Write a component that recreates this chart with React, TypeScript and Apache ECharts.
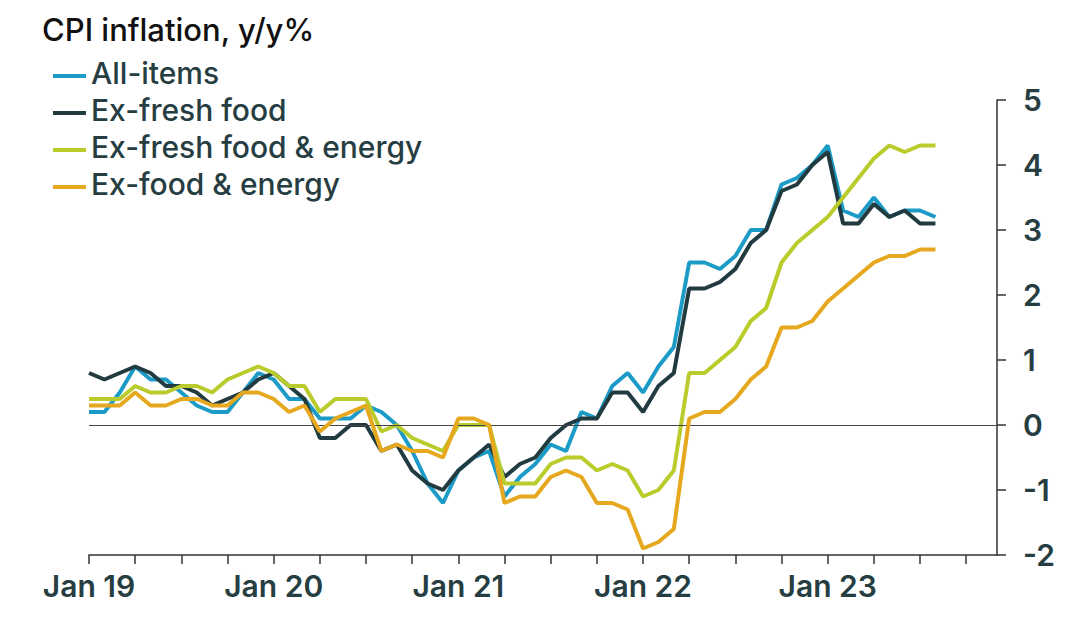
import React, { useEffect, useRef } from "react";
import * as echarts from "echarts";

const years = ["19", "20", "21", "22", "23"];
const monthNames = ["Jan", "Feb", "Mar", "Apr", "May", "Jun", "Jul", "Aug", "Sep", "Oct", "Nov", "Dec"];
const categories: string[] = [];
years.forEach((y) => monthNames.forEach((m) => categories.push(`${m} ${y}`)));

const allItems = [
  0.2, 0.2, 0.5, 0.9, 0.7, 0.7, 0.5, 0.3, 0.2, 0.2, 0.5, 0.8,
  0.7, 0.4, 0.4, 0.1, 0.1, 0.1, 0.3, 0.2, 0.0, -0.4, -0.9, -1.2,
  -0.7, -0.5, -0.4, -1.1, -0.8, -0.6, -0.3, -0.4, 0.2, 0.1, 0.6, 0.8,
  0.5, 0.9, 1.2, 2.5, 2.5, 2.4, 2.6, 3.0, 3.0, 3.7, 3.8, 4.0,
  4.3, 3.3, 3.2, 3.5, 3.2, 3.3, 3.3, 3.2,
];
const exFreshFood = [
  0.8, 0.7, 0.8, 0.9, 0.8, 0.6, 0.6, 0.5, 0.3, 0.4, 0.5, 0.7,
  0.8, 0.6, 0.4, -0.2, -0.2, 0.0, 0.0, -0.4, -0.3, -0.7, -0.9, -1.0,
  -0.7, -0.5, -0.3, -0.8, -0.6, -0.5, -0.2, 0.0, 0.1, 0.1, 0.5, 0.5,
  0.2, 0.6, 0.8, 2.1, 2.1, 2.2, 2.4, 2.8, 3.0, 3.6, 3.7, 4.0,
  4.2, 3.1, 3.1, 3.4, 3.2, 3.3, 3.1, 3.1,
];
const exFreshFoodEnergy = [
  0.4, 0.4, 0.4, 0.6, 0.5, 0.5, 0.6, 0.6, 0.5, 0.7, 0.8, 0.9,
  0.8, 0.6, 0.6, 0.2, 0.4, 0.4, 0.4, -0.1, 0.0, -0.2, -0.3, -0.4,
  0.0, 0.0, 0.0, -0.9, -0.9, -0.9, -0.6, -0.5, -0.5, -0.7, -0.6, -0.7,
  -1.1, -1.0, -0.7, 0.8, 0.8, 1.0, 1.2, 1.6, 1.8, 2.5, 2.8, 3.0,
  3.2, 3.5, 3.8, 4.1, 4.3, 4.2, 4.3, 4.3,
];
const exFoodEnergy = [
  0.3, 0.3, 0.3, 0.5, 0.3, 0.3, 0.4, 0.4, 0.3, 0.3, 0.5, 0.5,
  0.4, 0.2, 0.3, -0.1, 0.1, 0.2, 0.3, -0.4, -0.3, -0.4, -0.4, -0.5,
  0.1, 0.1, 0.0, -1.2, -1.1, -1.1, -0.8, -0.7, -0.8, -1.2, -1.2, -1.3,
  -1.9, -1.8, -1.6, 0.1, 0.2, 0.2, 0.4, 0.7, 0.9, 1.5, 1.5, 1.6,
  1.9, 2.1, 2.3, 2.5, 2.6, 2.6, 2.7, 2.7,
];

const seriesNames = ["All-items", "Ex-fresh food", "Ex-fresh food & energy", "Ex-food & energy"];
const seriesColors = ["#1b9bc6", "#213b41", "#bacb2c", "#e6a81e"];
const seriesData = [allItems, exFreshFood, exFreshFoodEnergy, exFoodEnergy];

const FONT = "Inter, 'Noto Sans', sans-serif";
const TEXT = "#263d42";
// legend swatch: a short bar sitting a little below the text's centre
const LEGEND_ICON = "path://M0,0h33v0.01h-33z M0,7h33v4h-33z";

export default function App() {
  const ref = useRef<HTMLDivElement>(null);
  useEffect(() => {
    if (!ref.current) return;
    const chart = echarts.init(ref.current, undefined, { renderer: "svg" });
    chart.setOption({
      animation: false,
      backgroundColor: "#ffffff",
      title: {
        text: "CPI inflation, y/y%",
        left: 37,
        top: 9,
        textStyle: { fontFamily: FONT, fontSize: 31, fontWeight: 500, color: "#111111" },
      },
      legend: {
        orient: "vertical",
        left: 48,
        top: 49,
        icon: LEGEND_ICON,
        itemWidth: 33,
        itemHeight: 11,
        itemGap: 0,
        data: seriesNames,
        textStyle: {
          fontFamily: FONT,
          fontSize: 30,
          fontWeight: 500,
          color: TEXT,
          lineHeight: 37,
        },
      },
      grid: { left: 89, right: 73, top: 100, bottom: 62, containLabel: false },
      xAxis: {
        type: "category",
        data: categories,
        boundaryGap: false,
        axisLine: { show: true, onZero: false, lineStyle: { color: "#333333", width: 1.5 } },
        axisTick: {
          show: true,
          length: 9,
          interval: (i: number) => i % 3 === 0,
          lineStyle: { color: "#333333", width: 1.5 },
        },
        axisLabel: {
          interval: (i: number) => i % 12 === 0,
          margin: 16,
          fontFamily: FONT,
          fontSize: 30,
          fontWeight: 600,
          color: TEXT,
        },
        splitLine: { show: false },
      },
      yAxis: {
        type: "value",
        position: "right",
        min: -2,
        max: 5,
        interval: 1,
        axisLine: { show: true, lineStyle: { color: "#333333", width: 1.5 } },
        axisTick: { show: true, inside: false, length: 9, lineStyle: { color: "#333333", width: 1.5 } },
        axisLabel: {
          margin: 26,
          fontFamily: FONT,
          fontSize: 30,
          fontWeight: 600,
          color: TEXT,
        },
        splitLine: { show: false },
      },
      series: seriesData.map((d, idx) => ({
        name: seriesNames[idx],
        type: "line",
        data: d,
        symbol: "none",
        color: seriesColors[idx],
        lineStyle: { width: 4, color: seriesColors[idx] },
        z: 2 + idx,
        ...(idx === seriesData.length - 1
          ? {
              markLine: {
                silent: true,
                symbol: "none",
                label: { show: false },
                lineStyle: { color: "#444444", width: 1.2, type: "solid" },
                data: [{ yAxis: 0 }],
              },
            }
          : {}),
      })),
    });
    return () => chart.dispose();
  }, []);
  return (
    <div
      ref={ref}
      style={{ position: "fixed", left: 0, top: 0, width: 1070, height: 617 }}
    />
  );
}
